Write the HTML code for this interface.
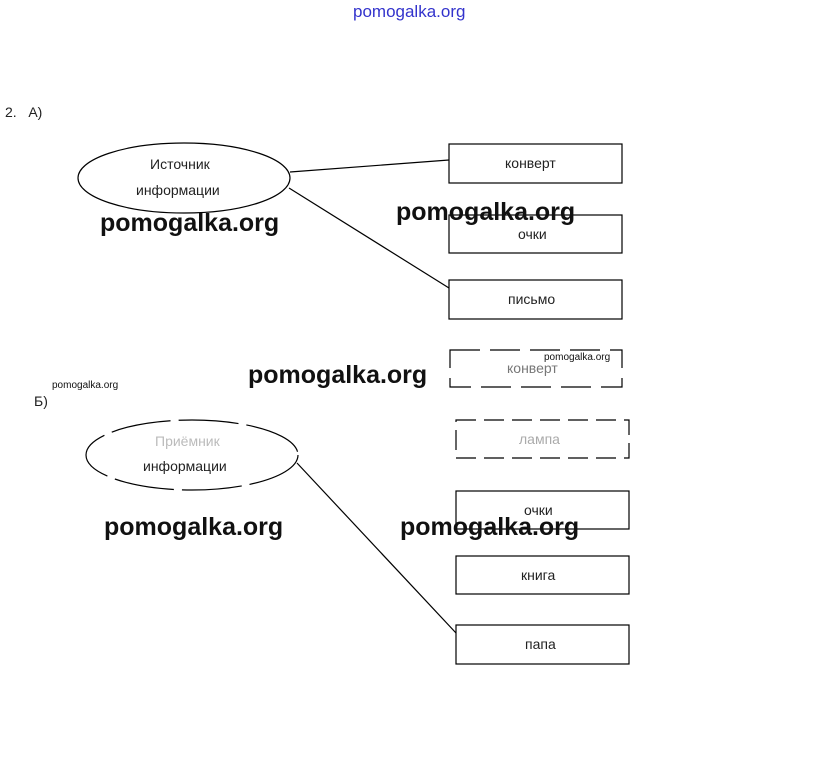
<!DOCTYPE html>
<html><head><meta charset="utf-8"><style>
body{margin:0;background:#fff;width:823px;height:766px;overflow:hidden;position:relative;font-family:"Liberation Sans","DejaVu Sans",sans-serif}
.t{position:absolute;white-space:nowrap;color:#222;font-size:14px}
.wm{position:absolute;white-space:nowrap;font-weight:bold;font-size:25px;color:#111;letter-spacing:0px}
.sm{position:absolute;white-space:nowrap;font-size:10px;color:#111}
svg{position:absolute;left:0;top:0}
</style></head><body>
<svg width="823" height="766">
<g fill="none" stroke="#000" stroke-width="1.2">
<ellipse cx="184" cy="178" rx="106" ry="35"/>
<rect x="449" y="144" width="173" height="39"/>
<rect x="449" y="215" width="173" height="38"/>
<rect x="449" y="280" width="173" height="39"/>
<line x1="290" y1="172" x2="449" y2="160"/>
<line x1="289" y1="188" x2="449" y2="288"/>
<rect x="450" y="350" width="172" height="37" stroke-dasharray="30 10"/>
<ellipse cx="192" cy="455" rx="106" ry="35" stroke-dasharray="60 8"/>
<rect x="456" y="420" width="173" height="38" stroke-dasharray="20 8"/>
<rect x="456" y="491" width="173" height="38"/>
<rect x="456" y="556" width="173" height="38"/>
<rect x="456" y="625" width="173" height="39"/>
<line x1="297" y1="463" x2="456" y2="633"/>
</g>
</svg>
<div class="t" style="left:353px;top:2px;color:#3333cc;font-size:17px">pomogalka.org</div>
<div class="t" style="left:5px;top:104px">2.&nbsp;&nbsp;&nbsp;А)</div>
<div class="t" style="left:150px;top:156px">Источник</div>
<div class="t" style="left:136px;top:182px">информации</div>
<div class="t" style="left:505px;top:155px">конверт</div>
<div class="t" style="left:518px;top:226px">очки</div>
<div class="t" style="left:508px;top:291px">письмо</div>
<div class="t" style="left:507px;top:360px;color:#777">конверт</div>
<div class="t" style="left:34px;top:393px">Б)</div>
<div class="t" style="left:155px;top:433px;color:#bbb">Приёмник</div>
<div class="t" style="left:143px;top:458px">информации</div>
<div class="t" style="left:519px;top:431px;color:#aaa">лампа</div>
<div class="t" style="left:524px;top:502px">очки</div>
<div class="t" style="left:521px;top:567px">книга</div>
<div class="t" style="left:525px;top:636px">папа</div>
<div class="wm" style="left:100px;top:209px">pomogalka.org</div>
<div class="wm" style="left:396px;top:198px">pomogalka.org</div>
<div class="wm" style="left:248px;top:361px">pomogalka.org</div>
<div class="wm" style="left:104px;top:513px">pomogalka.org</div>
<div class="wm" style="left:400px;top:513px">pomogalka.org</div>
<div class="sm" style="left:52px;top:380px">pomogalka.org</div>
<div class="sm" style="left:544px;top:352px">pomogalka.org</div>
</body></html>
